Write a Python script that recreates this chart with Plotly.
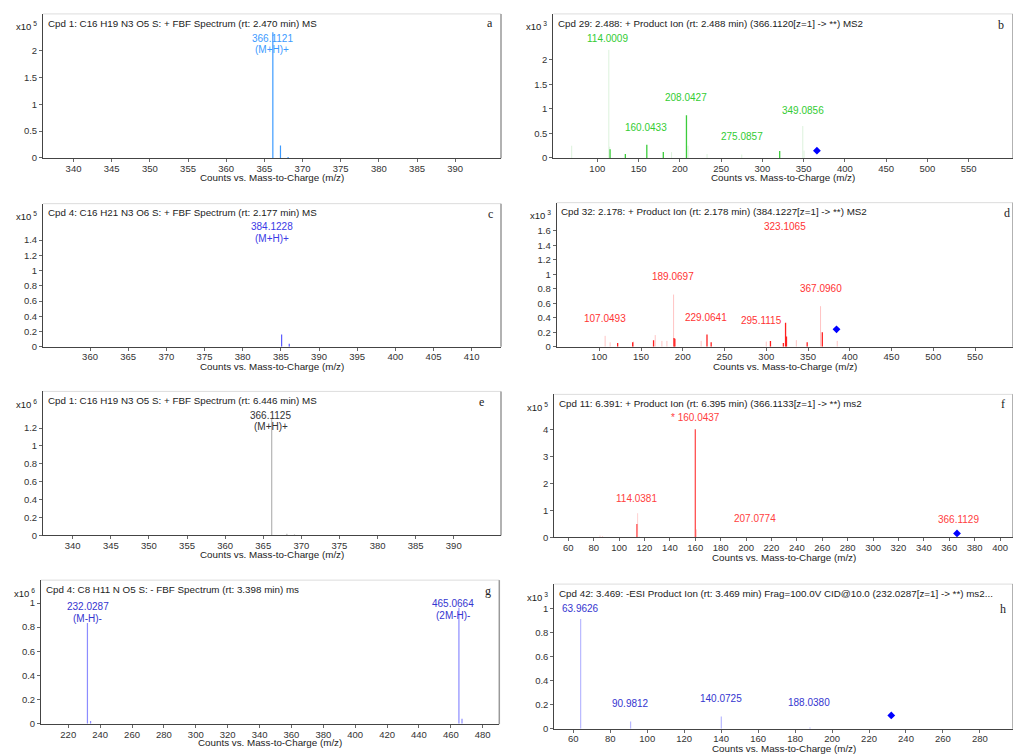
import plotly.graph_objects as go

W, H = 1013, 755
FONT = "Arial, Liberation Sans, sans-serif"

# ---------------- data ----------------
# panel a
a_mz = [366.11, 367.11, 368.11]
a_int = [2.34, 0.23, 0.02]
# panel b
b_mz_bright = [115.5, 134.0, 160.0, 180.0, 208.04, 321.0]
b_int_bright = [0.18, 0.08, 0.27, 0.12, 0.87, 0.14]
b_mz_light = [69.0, 114.0, 115.0, 190.0, 210.0, 233.0, 275.0, 349.0, 350.5]
b_int_light = [0.25, 2.2, 0.23, 0.12, 0.25, 0.08, 0.07, 0.65, 0.15]
b_prec = [366.11]
b_prec_int = [0.15]
# panel c
c_mz = [385.1, 386.1]
c_int = [0.16, 0.04]
# panel d
d_mz_bright = [122.0, 140.0, 165.0, 189.5, 190.5, 229.0, 234.0, 305.0, 320.5, 323.1, 324.2, 349.0, 367.1]
d_int_bright = [0.05, 0.06, 0.09, 0.12, 0.11, 0.17, 0.06, 0.08, 0.05, 0.33, 0.14, 0.06, 0.20]
d_mz_light = [107.0, 113.0, 141.0, 167.0, 175.0, 181.0, 189.0, 222.0, 300.0, 336.0, 365.0, 385.0]
d_int_light = [0.15, 0.06, 0.07, 0.16, 0.08, 0.08, 0.72, 0.08, 0.07, 0.09, 0.56, 0.08]
d_prec = [384.12]
d_prec_int = [0.24]
# panel e
e_mz = [366.11, 368.1, 369.1]
e_int = [1.30, 0.02, 0.01]
# panel f
f_mz_bright = [114.04, 160.04]
f_int_bright = [0.50, 4.02]
f_mz_light = [85.0, 87.0, 114.6, 116.0, 161.0]
f_int_light = [0.07, 0.05, 0.9, 0.03, 0.30]
f_prec = [366.11]
f_prec_int = [0.15]
# panel g
g_mz = [232.03, 234.0, 465.07, 467.0]
g_int = [0.835, 0.02, 0.96, 0.04]
# panel h
h_mz = [63.96, 90.98, 140.07, 188.04]
h_int = [0.91, 0.06, 0.10, 0.01]
h_prec = [232.03]
h_prec_int = [0.11]

# peak labels: (text, x, y)
a_labels = [("366.1121", 366.0, 2.23), ("(M+H)+", 366.0, 2.01)]
b_labels = [("114.0009", 112.6, 2.44), ("208.0427", 207.1, 1.23), ("160.0433", 159.0, 0.63),
            ("349.0856", 349.7, 0.96), ("275.0857", 275.0, 0.44)]
c_labels = [("384.1228", 383.8, 1.58), ("(M+H)+", 383.8, 1.42)]
d_labels = [("323.1065", 322.0, 1.66), ("189.0697", 188.0, 0.97), ("367.0960", 366.0, 0.80),
            ("107.0493", 107.0, 0.39), ("229.0641", 228.0, 0.41), ("295.1115", 294.5, 0.36)]
e_labels = [("366.1125", 366.0, 1.34), ("(M+H)+", 366.0, 1.22)]
f_labels = [("* 160.0437", 159.8, 4.46), ("114.0381", 113.8, 1.45), ("207.0774", 207.0, 0.69),
            ("366.1129", 367.0, 0.66)]
g_labels = [("232.0287", 232.2, 0.97), ("(M-H)-", 232.2, 0.87), ("465.0664", 461.6, 1.0),
            ("(2M-H)-", 461.3, 0.90)]
h_labels = [("63.9626", 64.0, 1.0), ("90.9812", 90.7, 0.21), ("140.0725", 139.8, 0.25),
            ("188.0380", 187.5, 0.22)]

titles = {
    "a": "Cpd 1: C16 H19 N3 O5 S: + FBF Spectrum (rt: 2.470 min) MS",
    "b": "Cpd 29: 2.488: + Product Ion (rt: 2.488 min) (366.1120[z=1] -> **) MS2",
    "c": "Cpd 4: C16 H21 N3 O6 S: + FBF Spectrum (rt: 2.177 min) MS",
    "d": "Cpd 32: 2.178: + Product Ion (rt: 2.178 min) (384.1227[z=1] -> **) MS2",
    "e": "Cpd 1: C16 H19 N3 O5 S: + FBF Spectrum (rt: 6.446 min) MS",
    "f": "Cpd 11: 6.391: + Product Ion (rt: 6.395 min) (366.1133[z=1] -> **) ms2",
    "g": "Cpd 4: C8 H11 N O5 S: - FBF Spectrum (rt: 3.398 min) ms",
    "h": "Cpd 42: 3.469: -ESI Product Ion (rt: 3.469 min) Frag=100.0V CID@10.0 (232.0287[z=1] -> **) ms2...",
}
exps = {"a": "5", "b": "3", "c": "5", "d": "3", "e": "6", "f": "5", "g": "6", "h": "3"}

# ---------------- layout geometry (pixels) ----------------
panels = {
    # key: (left, top, right, bottom, xrange, yrange, xticks, yticks)
    "a": (43, 14, 501, 159.3, [336.0, 396.0], [-0.005, 2.68], list(range(340, 391, 5)), [0, 0.5, 1, 1.5, 2]),
    "b": (553.3, 14, 1013, 159.3, [46.7, 603.7], [-0.005, 2.93], list(range(100, 551, 50)), [0, 0.5, 1, 1.5, 2]),
    "c": (43, 205, 501, 349, [353.84, 413.84], [0, 1.88], list(range(360, 411, 5)), [0, 0.2, 0.4, 0.6, 0.8, 1, 1.2, 1.4]),
    "d": (556.7, 204, 1013, 349, [49.0, 595.5], [0, 1.99], list(range(100, 551, 50)), [0, 0.2, 0.4, 0.6, 0.8, 1, 1.2, 1.4, 1.6]),
    "e": (43, 394, 501, 539, [336.1, 396.2], [0, 1.61], list(range(340, 391, 5)), [0, 0.2, 0.4, 0.6, 0.8, 1, 1.2]),
    "f": (554.3, 397, 1013, 541, [49.0, 410.2], [0, 5.32], list(range(60, 401, 20)), [0, 1, 2, 3, 4]),
    "g": (41, 584, 499.3, 729, [202.9, 490.4], [-0.006, 1.19], list(range(220, 481, 20)), [0, 0.2, 0.4, 0.6, 0.8, 1]),
    "h": (554.3, 588, 1013, 733.5, [49.7, 297.9], [0, 1.2], list(range(60, 281, 20)), [0, 0.2, 0.4, 0.6, 0.8, 1]),
}
letter_pos = {"a": (490, 22.7), "b": (1000.7, 25), "c": (490.7, 215.7), "d": (1006.7, 214),
              "e": (481.7, 405), "f": (1003, 406.7), "g": (488, 595), "h": (1003, 613)}
xtitle_y = {"a": 179, "b": 179, "c": 369, "d": 368.5, "e": 558.5, "f": 561.5, "g": 747.5, "h": 753}

fig = go.Figure()
order = ["a", "b", "c", "d", "e", "f", "g", "h"]
axis_id = {k: i + 1 for i, k in enumerate(order)}


def ax(k):
    i = axis_id[k]
    return ("x" if i == 1 else f"x{i}"), ("y" if i == 1 else f"y{i}")


def sticks(k, mz, inten, color, width=1.2):
    xs, ys = [], []
    for m, v in zip(mz, inten):
        xs += [m, m, None]
        ys += [0, v, None]
    xa, ya = ax(k)
    fig.add_trace(go.Scatter(x=xs, y=ys, mode="lines", line=dict(color=color, width=width),
                             xaxis=xa, yaxis=ya, showlegend=False, hoverinfo="skip"))


def diamond(k, mz, inten):
    xa, ya = ax(k)
    fig.add_trace(go.Scatter(x=mz, y=inten, mode="markers",
                             marker=dict(symbol="diamond", size=6, color="#0000ff"),
                             xaxis=xa, yaxis=ya, showlegend=False, hoverinfo="skip"))


def labels(k, labs, color):
    xa, ya = ax(k)
    for t, x, y in labs:
        fig.add_annotation(x=x, y=y, xref=xa, yref=ya, text=t, showarrow=False,
                           font=dict(family=FONT, size=10, color=color),
                           xanchor="center", yanchor="middle")


# traces
sticks("a", a_mz, a_int, "#3d9bff")
labels("a", a_labels, "#3d9bff")

sticks("b", b_mz_light, b_int_light, "#dcf2dc", 1)
sticks("b", b_mz_bright, b_int_bright, "#3ccc3c", 1.3)
diamond("b", b_prec, b_prec_int)
labels("b", b_labels, "#33cc33")

sticks("c", c_mz, c_int, "#5a5aff")
labels("c", c_labels, "#3a3ae6")

sticks("d", d_mz_light, d_int_light, "#ffc4c4", 1)
sticks("d", d_mz_bright, d_int_bright, "#ff2020", 1.3)
diamond("d", d_prec, d_prec_int)
labels("d", d_labels, "#ff3333")

sticks("e", e_mz, e_int, "#b4b4b4")
labels("e", e_labels, "#333333")

sticks("f", f_mz_light, f_int_light, "#ffd0d0", 1)
sticks("f", f_mz_bright, f_int_bright, "#ff5050", 1.3)
diamond("f", f_prec, f_prec_int)
labels("f", f_labels, "#ff4040")

sticks("g", g_mz, g_int, "#8c8cff")
labels("g", g_labels, "#3535d0")

sticks("h", h_mz, h_int, "#b8b8ff")
diamond("h", h_prec, h_prec_int)
labels("h", h_labels, "#3535d0")

# axes
layout = {}
for k in order:
    l, t, r, b, xr, yr, xt, yt = panels[k]
    i = axis_id[k]
    xname = "xaxis" if i == 1 else f"xaxis{i}"
    yname = "yaxis" if i == 1 else f"yaxis{i}"
    xa, ya = ax(k)
    tickfont = dict(family=FONT, size=9.5, color="#333333")
    layout[xname] = dict(domain=[l / W, r / W], range=xr, anchor=ya, showgrid=False, zeroline=False,
                         showline=True, linecolor="#444444", linewidth=1, ticks="outside", ticklen=3,
                         tickcolor="#666666", tickvals=xt, ticktext=[str(v) for v in xt],
                         tickfont=tickfont, fixedrange=True, ticklabelstandoff=-2)
    layout[yname] = dict(domain=[1 - b / H, 1 - t / H], range=yr, anchor=xa, showgrid=False, zeroline=False,
                         showline=True, linecolor="#444444", linewidth=1, ticks="outside", ticklen=3,
                         tickcolor="#666666", tickvals=yt, ticktext=[f"{v:g}" for v in yt],
                         tickfont=tickfont, fixedrange=True)
    # frame top/right
    fig.add_shape(type="line", xref="paper", yref="paper", x0=l / W, x1=r / W, y0=1 - t / H, y1=1 - t / H,
                  line=dict(color="#dddddd", width=1), layer="below")
    fig.add_shape(type="line", xref="paper", yref="paper", x0=r / W, x1=r / W, y0=1 - b / H, y1=1 - t / H,
                  line=dict(color="#999999", width=1.5), layer="below")
    # title inside
    fig.add_annotation(xref="paper", yref="paper", x=(l + 2.5) / W, y=1 - (t + 9.3) / H, text=titles[k],
                       showarrow=False, xanchor="left", yanchor="middle",
                       font=dict(family=FONT, size=9.8, color="#222222"))
    # exponent
    fig.add_annotation(xref="paper", yref="paper", x=(l - 4) / W, y=1 - (t + 12.5) / H,
                       text=f"x10<sup> {exps[k]}</sup>", showarrow=False, xanchor="right", yanchor="middle",
                       font=dict(family=FONT, size=9.5, color="#222222"))
    # letter
    lx, ly = letter_pos[k]
    fig.add_annotation(xref="paper", yref="paper", x=lx / W, y=1 - ly / H, text=k, showarrow=False,
                       xanchor="center", yanchor="middle",
                       font=dict(family="Liberation Serif, Times New Roman, serif", size=12, color="#222222"))
    # x title
    fig.add_annotation(xref="paper", yref="paper", x=(l + r) / 2 / W, y=1 - xtitle_y[k] / H,
                       text="Counts vs. Mass-to-Charge (m/z)", showarrow=False, xanchor="center",
                       yanchor="middle", font=dict(family=FONT, size=9.8, color="#222222"))

fig.update_layout(width=W, height=H, margin=dict(l=0, r=0, t=0, b=0), plot_bgcolor="white",
                  paper_bgcolor="white", showlegend=False, **layout)

fig.write_html("out.html", config={"displayModeBar": False})
